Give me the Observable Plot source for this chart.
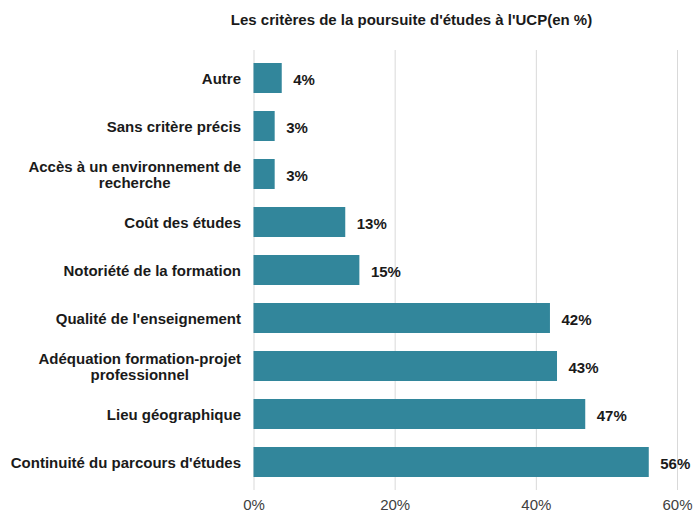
<!DOCTYPE html>
<html>
<head>
<meta charset="utf-8">
<script src="https://cdn.jsdelivr.net/npm/d3@7"></script>
<script src="https://cdn.jsdelivr.net/npm/@observablehq/plot@0.6"></script>
<style>
  html, body { margin: 0; padding: 0; background: #fff; }
  #wrap { width: 695px; height: 510px; overflow: hidden; font-family: "Liberation Sans", Arial, sans-serif; }
  #title { height: 40px; box-sizing: border-box; padding-left: 128px; text-align: center; font-weight: bold; font-size: 15px; color: #1a1a1a; line-height: 40px; }
</style>
</head>
<body>
<div id="wrap">
  <div id="title">Les critères de la poursuite d'études à l'UCP(en %)</div>
  <div id="chart"></div>
</div>
<script>
const categories = [
  "Autre",
  "Sans critère précis",
  "Accès à un environnement de\nrecherche",
  "Coût des études",
  "Notoriété de la formation",
  "Qualité de l'enseignement",
  "Adéquation formation-projet\nprofessionnel",
  "Lieu géographique",
  "Continuité du parcours d'études"
];
const values = [4, 3, 3, 13, 15, 42, 43, 47, 56];
const xTicks = [0, 20, 40, 60];

const data = categories.map((c, i) => ({category: c, value: values[i]}));

const chart = Plot.plot({
  width: 695,
  height: 470,
  marginLeft: 253.5,
  marginRight: 18,
  marginTop: 10,
  marginBottom: 20,
  style: {fontFamily: "Liberation Sans, Arial, sans-serif", background: "#fff"},
  x: {domain: [0, 60]},
  y: {domain: categories, paddingInner: 0.38, paddingOuter: 0.22},
  marks: [
    Plot.gridX(xTicks, {stroke: "#d9d9d9", strokeOpacity: 1, strokeWidth: 1}),
    Plot.barX(data, {x: "value", y: "category", fill: "#32869b"}),
    Plot.text(data, {
      x: "value", y: "category", text: d => d.value + "%",
      textAnchor: "start", dx: 11, dy: 2,
      fontWeight: "bold", fontSize: 15, fill: "#1a1a1a"
    }),
    Plot.axisX(xTicks, {
      tickSize: 0, tickPadding: 9, tickFormat: d => d + "%",
      fontSize: 15, fill: "#404040", label: null
    }),
    Plot.axisY({
      tickSize: 0, tickPadding: 13, label: null,
      fontWeight: "bold", fontSize: 15, fill: "#1a1a1a", lineHeight: 1.1
    })
  ]
});

document.getElementById("chart").appendChild(chart);

// center wrapped lines of multi-line y labels within their right-aligned block
chart.querySelectorAll('[aria-label="y-axis tick label"] text').forEach(t => {
  const spans = t.querySelectorAll("tspan");
  if (spans.length > 1) {
    let W = 0;
    spans.forEach(s => { W = Math.max(W, s.getComputedTextLength()); });
    t.setAttribute("text-anchor", "middle");
    spans.forEach(s => s.setAttribute("x", -W / 2));
  }
});
</script>
</body>
</html>
